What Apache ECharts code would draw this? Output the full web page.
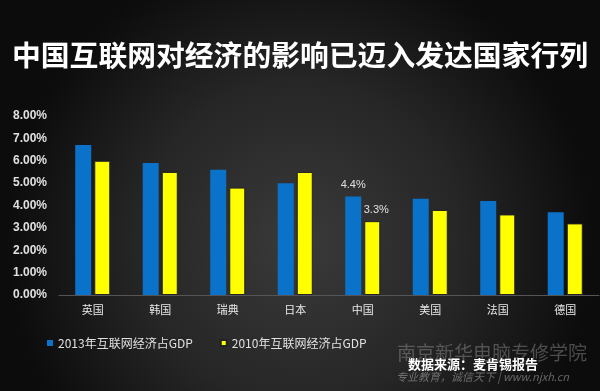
<!DOCTYPE html>
<html><head><meta charset="utf-8">
<script src="https://cdn.jsdelivr.net/npm/echarts@6/dist/echarts.min.js"></script>
<style>html,body{margin:0;padding:0;background:#111;}#c{width:600px;height:391px;}</style>
</head><body><div id="c"></div>
<script>
var categories = ['英国','韩国','瑞典','日本','中国','美国','法国','德国'];
var gdp2013 = [6.7, 5.9, 5.6, 5.0, 4.4, 4.3, 4.2, 3.7];
var gdp2010 = [6.0, 5.5, 4.8, 5.5, 3.3, 3.8, 3.6, 3.2];
var seriesNames = ['2013年互联网经济占GDP', '2010年互联网经济占GDP'];
var labelledCategory = '中国';

var chart = echarts.init(document.getElementById('c'));
function lab(arr){
  return arr.map(function(v,i){
    return categories[i]===labelledCategory ? {value:v,label:{show:true}} : v;
  });
}
var font = '"Noto Sans CJK SC", "Liberation Sans", sans-serif';
chart.setOption({
  animation:false,
  backgroundColor:'#151515',
  textStyle:{fontFamily:font},
  graphic:[
    {type:'rect',z:-10,silent:true,shape:{x:0,y:0,width:600,height:391},
     style:{fill:{type:'radial',x:0.5,y:0.62,r:0.75,colorStops:[{offset:0,color:'#3a3a3a'},{offset:0.55,color:'#262626'},{offset:1,color:'#0c0c0c'}]}}},
    {type:'text',left:'center',top:41,style:{text:'中国互联网对经济的影响已迈入发达国家行列',fill:'#ffffff',font:'bold 28.8px '+font,shadowColor:'rgba(255,255,255,0.35)',shadowBlur:3}},
    {type:'text',left:397,top:343,style:{text:'南京新华电脑专修学院',fill:'rgba(150,150,150,0.45)',font:'19px '+font}},
    {type:'text',left:396,top:371,style:{text:'专业教育，诚信天下 | www.njxh.cn',fill:'rgba(160,160,160,0.6)',font:'italic 11px '+font}},
    {type:'text',left:408,top:358,style:{text:'数据来源：麦肯锡报告',fill:'#ffffff',font:'bold 13px '+font}}
  ],
  legend:{
    left:42, top:332, itemWidth:6, itemHeight:6, itemGap:27, icon:'rect',
    textStyle:{color:'#e0e0e0',fontSize:12,fontFamily:font},
    data:seriesNames
  },
  grid:{left:59,right:1,top:116,bottom:96},
  xAxis:{
    type:'category', data:categories,
    axisLine:{lineStyle:{color:'#555'}}, axisTick:{show:false},
    axisLabel:{color:'#e8e8e8',fontSize:11,margin:9,fontFamily:font}
  },
  yAxis:{
    type:'value', min:0, max:8, interval:1,
    axisLine:{show:false}, axisTick:{show:false}, splitLine:{show:false},
    axisLabel:{color:'#e0e0e0',fontSize:12,fontWeight:'bold',margin:12,fontFamily:'"Liberation Sans", Arial, sans-serif',
      formatter:function(v){return v.toFixed(2)+'%';}}
  },
  series:[
    {name:seriesNames[0],type:'bar',barWidth:16,barGap:'19%',data:lab(gdp2013),
     itemStyle:{color:'#0b72c9'},
     label:{show:false,position:'top',color:'#e0e0e0',fontSize:11,fontFamily:'"Liberation Sans", Arial, sans-serif',formatter:function(p){return p.value.toFixed(1)+'%';},distance:6}},
    {name:seriesNames[1],type:'bar',barWidth:16,data:lab(gdp2010),
     itemStyle:{color:'#ffff00',borderColor:'#222',borderWidth:1},
     label:{show:false,position:'top',color:'#e0e0e0',fontSize:11,offset:[4,0],fontFamily:'"Liberation Sans", Arial, sans-serif',formatter:function(p){return p.value.toFixed(1)+'%';},distance:6}}
  ]
});
</script></body></html>
